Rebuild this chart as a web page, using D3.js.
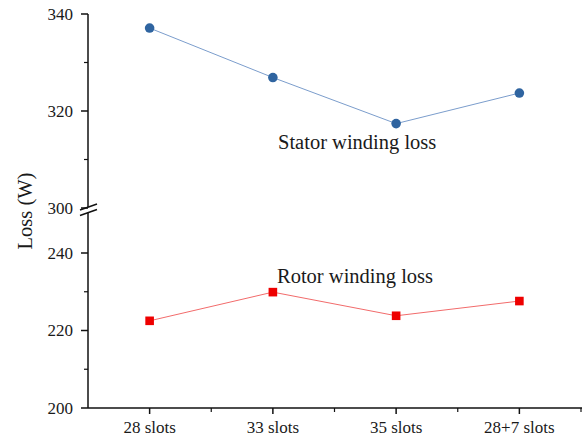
<!DOCTYPE html>
<html><head><meta charset="utf-8">
<script src="https://cdn.jsdelivr.net/npm/d3@7"></script>
<style>body{margin:0;background:#fff}svg{display:block}</style>
</head><body><svg id="c" width="584" height="439" font-family="'Liberation Serif', 'Times New Roman', Times, serif"></svg>
<script>
const categories = ["28 slots", "33 slots", "35 slots", "28+7 slots"];
const statorLoss = [337.1, 326.9, 317.4, 323.7];
const rotorLoss = [222.5, 229.9, 223.8, 227.6];
const upperTicks = [300, 320, 340];
const lowerTicks = [200, 220, 240];

const FONT = "'Liberation Serif', 'Times New Roman', Times, serif";
const svg = d3.select("#c");
const xLeft = 88, xRight = 581, yBottom = 408;
const x = d3.scaleBand().domain(categories).range([xLeft, xRight]);
const yUp = d3.scaleLinear().domain([300, 340]).range([208, 14]);
const yLo = d3.scaleLinear().domain([200, 240]).range([yBottom, 253]);

const ax = "#111";
const txt = () => svg.append("text").attr("font-family", FONT).attr("fill", "#1a1a1a");
// y axis line (broken)
svg.append("line").attr("x1", xLeft).attr("x2", xLeft).attr("y1", yUp(340)).attr("y2", 207).attr("stroke", ax).attr("stroke-width", 1.5);
svg.append("line").attr("x1", xLeft).attr("x2", xLeft).attr("y1", 212.5).attr("y2", yBottom).attr("stroke", ax).attr("stroke-width", 1.5);
// break marks
[207, 212.5].forEach(cy => {
  svg.append("line").attr("x1", xLeft - 8).attr("x2", xLeft + 9).attr("y1", cy + 3).attr("y2", cy - 3).attr("stroke", ax).attr("stroke-width", 1.5);
});

function yTicks(scale, ticks, minors) {
  ticks.forEach(t => {
    svg.append("line").attr("x1", xLeft - 7).attr("x2", xLeft).attr("y1", scale(t)).attr("y2", scale(t)).attr("stroke", ax).attr("stroke-width", 1.5);
    txt().attr("x", xLeft - 15).attr("y", scale(t)).attr("dy", "0.35em").attr("text-anchor", "end").attr("font-size", 17).text(t);
  });
  minors.forEach(t => {
    svg.append("line").attr("x1", xLeft - 4).attr("x2", xLeft).attr("y1", scale(t)).attr("y2", scale(t)).attr("stroke", ax).attr("stroke-width", 1.2);
  });
}
yTicks(yUp, upperTicks, [310, 330]);
yTicks(yLo, lowerTicks, [210, 230]);

// x axis
svg.append("line").attr("x1", xLeft).attr("x2", xRight + 1).attr("y1", yBottom).attr("y2", yBottom).attr("stroke", ax).attr("stroke-width", 1.5);
categories.forEach((c, i) => {
  const cx = x(c) + x.bandwidth() / 2;
  svg.append("line").attr("x1", cx).attr("x2", cx).attr("y1", yBottom).attr("y2", yBottom + 6).attr("stroke", ax).attr("stroke-width", 1.5);
  svg.append("line").attr("x1", x(c) + x.bandwidth()).attr("x2", x(c) + x.bandwidth()).attr("y1", yBottom).attr("y2", yBottom + 4).attr("stroke", ax).attr("stroke-width", 1.2);
  txt().attr("x", cx).attr("y", yBottom + 25).attr("text-anchor", "middle").attr("font-size", 17).text(c);
});

// y label
txt().attr("transform", "translate(32,211) rotate(-90)").attr("text-anchor", "middle").attr("font-size", 20.5).text("Loss (W)");

const px = c => x(c) + x.bandwidth() / 2;
// stator
svg.append("path").datum(statorLoss).attr("fill", "none").attr("stroke", "#7b9dcc").attr("stroke-width", 1)
  .attr("d", d3.line().x((d, i) => px(categories[i])).y(d => yUp(d)));
svg.selectAll(".st").data(statorLoss).enter().append("circle")
  .attr("cx", (d, i) => px(categories[i])).attr("cy", d => yUp(d)).attr("r", 4.8).attr("fill", "#2f64a0");
// rotor
svg.append("path").datum(rotorLoss).attr("fill", "none").attr("stroke", "#f26b6b").attr("stroke-width", 1)
  .attr("d", d3.line().x((d, i) => px(categories[i])).y(d => yLo(d)));
svg.selectAll(".rt").data(rotorLoss).enter().append("rect")
  .attr("x", (d, i) => px(categories[i]) - 4.3).attr("y", d => yLo(d) - 4.3).attr("width", 8.6).attr("height", 8.6).attr("fill", "#ee0000");

txt().attr("x", 278).attr("y", 149).attr("font-size", 20.5).text("Stator winding loss");
txt().attr("x", 277).attr("y", 283).attr("font-size", 20.5).text("Rotor winding loss");
</script></body></html>
